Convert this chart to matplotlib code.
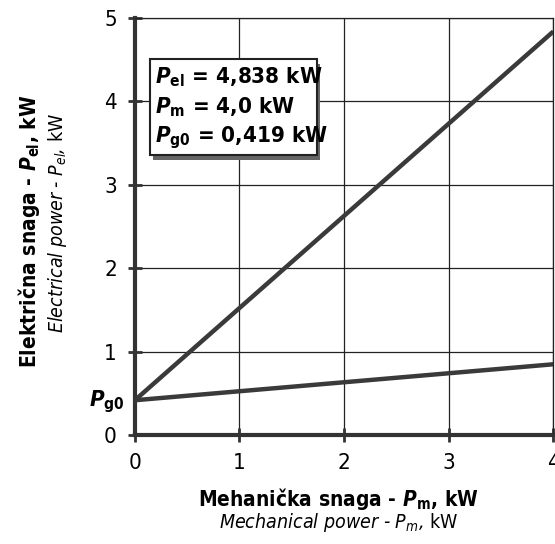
import numpy as np
import matplotlib
matplotlib.use('Agg')
import matplotlib.pyplot as plt
from matplotlib.patches import Rectangle

# data
P_m = [0, 4]                 # mechanical power, kW
P_el_line = [0.419, 4.838]   # electrical power, kW
P_g_line = [0.419, 0.85]     # losses line, kW
x_ticks = [0, 1, 2, 3, 4]
y_ticks = [0, 1, 2, 3, 4, 5]
box_lines = [r'$\mathbfit{P}_{\mathbf{el}}$ = 4,838 kW',
             r'$\mathbfit{P}_{\mathbf{m}}$ = 4,0 kW',
             r'$\mathbfit{P}_{\mathbf{g0}}$ = 0,419 kW']

plt.rcParams['font.family'] = ['DejaVu Sans']
plt.rcParams['font.stretch'] = 'condensed'
plt.rcParams['mathtext.fontset'] = 'custom'
plt.rcParams['mathtext.rm'] = 'DejaVu Sans:stretch=condensed'
plt.rcParams['mathtext.it'] = 'DejaVu Sans:style=italic:stretch=condensed'
plt.rcParams['mathtext.bf'] = 'DejaVu Sans:weight=bold:stretch=condensed'
plt.rcParams['mathtext.bfit'] = 'DejaVu Sans:style=italic:weight=bold:stretch=condensed'

fig = plt.figure(figsize=(5.55, 5.44), dpi=100)
ax = fig.add_axes([0.243, 0.2, 0.754, 0.767])

ax.plot(P_m, P_el_line, color='#3a3a3a', lw=3.2, solid_capstyle='butt', zorder=3)
ax.plot(P_m, P_g_line, color='#3a3a3a', lw=3.2, solid_capstyle='butt', zorder=3)

ax.set_xlim(0, 4)
ax.set_ylim(0, 5)
ax.set_xticks(x_ticks)
ax.set_yticks(y_ticks)
ax.grid(True, color='#222222', lw=0.9)
for s in ['top', 'right']:
    ax.spines[s].set_linewidth(0.9)
    ax.spines[s].set_color('#222222')
for s in ['left', 'bottom']:
    ax.spines[s].set_linewidth(3)
    ax.spines[s].set_color('#333333')
ax.tick_params(direction='inout', length=10, width=2, color='#333333',
               labelsize=16, pad=8)

# axis titles, bold line + italic line
fig.text(0.61, 0.083, 'Mehanička snaga - $\\mathbfit{P}_{\\mathbf{m}}$, kW',
         fontsize=15, fontweight='bold', ha='center', va='center')
fig.text(0.61, 0.040, 'Mechanical power - $\\mathit{P}_{\\mathit{m}}$, $\\mathrm{kW}$',
         fontsize=14, style='italic', ha='center', va='center')
fig.text(0.052, 0.575, 'Električna snaga - $\\mathbfit{P}_{\\mathbf{el}}$, kW',
         fontsize=15, fontweight='bold', ha='center', va='center', rotation=90)
fig.text(0.104, 0.59, 'Electrical power - $\\mathit{P}_{\\mathit{el}}$, $\\mathrm{kW}$',
         fontsize=14, style='italic', ha='center', va='center', rotation=90)

# P_g0 marker label
ax.text(-0.1, 0.40, r'$\mathbfit{P}_{\mathbf{g0}}$', fontsize=16,
        ha='right', va='center')

# info box with shadow
ax.add_patch(Rectangle((0.17, 3.30), 1.60, 1.15, facecolor='#666666',
                       edgecolor='none', zorder=4))
ax.add_patch(Rectangle((0.14, 3.36), 1.60, 1.15, facecolor='white',
                       edgecolor='#222222', lw=1.5, zorder=5))
for i, t in enumerate(box_lines):
    ax.text(0.19, 4.29 - i * 0.36, t, fontsize=16, fontweight='bold',
            va='center', ha='left', zorder=6)

fig.savefig('out.png', dpi=100)
